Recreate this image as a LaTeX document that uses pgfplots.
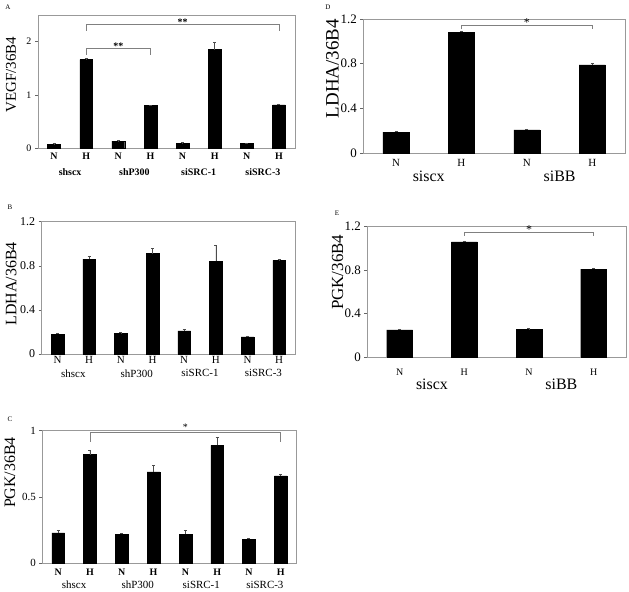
\documentclass[border=0pt]{standalone}
\usepackage{pgfplots}
\pgfplotsset{compat=1.18}
\usepackage{fontspec}
\setmainfont{Liberation Serif}
\newcommand{\fs}[1]{\fontsize{#1}{#1}\selectfont}
\pgfplotsset{
  panel/.style={
    scale only axis, clip=false, anchor=south west,
    axis line style={black!40, line width=0.6pt},
    xmin=-0.5, ymin=0,
    tick align=outside, ytick pos=left, xtick pos=bottom,
    major tick length=3bp,
    xtick style={draw=none}, ytick style={black!60, line width=0.6pt},
    ylabel style={anchor=center, rotate=0},
  },
  barstyle/.style={ybar, bar shift=0pt, bar width=0.4, fill=black, draw=black,
    error bars/.cd, y dir=plus, y explicit,
    error bar style={black!70, line width=0.6pt},
    error mark options={rotate=90, mark size=1.5bp, black!70, line width=0.6pt}},
  brk/.style={black!50, sharp plot, no marks, line width=0.6pt, forget plot},
}
\begin{document}
\begin{tikzpicture}
\useasboundingbox (0,0) rectangle (629bp,-592bp);
% Panel A
\node[font=\fs{7}] at (8bp,-7bp) {A};
\begin{axis}[panel, at={(38bp,-148bp)}, width=257bp, height=133bp,
  xmax=7.5, ymax=2.5, ytick={0,1,2}, yticklabels={0,1,2},
  yticklabel style={font=\fs{10}},
  xtick={0,...,7}, xticklabels={N,H,N,H,N,H,N,H},
  xticklabel style={font=\fs{10}\bfseries, anchor=center, yshift=-5.7bp},
  extra x ticks={0.5,2.5,4.5,6.5}, extra x tick labels={shscx,shP300,siSRC-1,siSRC-3},
  extra x tick style={xticklabel style={yshift=-15bp}},
  ylabel={VEGF/36B4}, ylabel style={font=\fs{15}, at={(axis description cs:-0.105,0.55)}}]
\addplot[barstyle] coordinates {(0,0.07) +- (0,0.01) (1,1.66) +- (0,0.02) (2,0.13) +- (0,0.01) (3,0.80) +- (0,0.005) (4,0.09) +- (0,0.01) (5,1.85) +- (0,0.13) (6,0.09) +- (0,0.005) (7,0.81) +- (0,0.02)};
\addplot[brk] coordinates {(1,1.75) (1,1.88) (3,1.88) (3,1.75)};
\addplot[brk] coordinates {(1,2.20) (1,2.32) (7,2.32) (7,2.20)};
\node[font=\fs{10}\bfseries, anchor=base] at (axis cs:2,1.86) {**};
\node[font=\fs{10}\bfseries, anchor=base] at (axis cs:4,2.31) {**};
\end{axis}
% Panel B
\node[font=\fs{7}] at (10bp,-207bp) {B};
\begin{axis}[panel, at={(41.7bp,-354bp)}, width=253.3bp, height=132.3bp,
  xmax=7.5, ymax=1.2, ytick={0,0.4,0.8,1.2}, yticklabels={0,0.4,0.8,1.2},
  yticklabel style={font=\fs{12}},
  xtick={0,...,7}, xticklabels={N,H,N,H,N,H,N,H},
  xticklabel style={font=\fs{11}, anchor=center, yshift=-3bp},
  extra x ticks={0.5,2.5,4.5,6.5}, extra x tick labels={shscx,shP300,siSRC-1,siSRC-3},
  extra x tick style={xticklabel style={yshift=-13.3bp}},
  ylabel={LDHA/36B4}, ylabel style={font=\fs{16}, at={(axis description cs:-0.121,0.53)}}]
\addplot[barstyle] coordinates {(0,0.18) +- (0,0.01) (1,0.86) +- (0,0.03) (2,0.19) +- (0,0.005) (3,0.91) +- (0,0.05) (4,0.21) +- (0,0.01) (5,0.84) +- (0,0.15) (6,0.155) +- (0,0.01) (7,0.85) +- (0,0.005)};
\end{axis}
% Panel C
\node[font=\fs{7}] at (10bp,-419bp) {C};
\begin{axis}[panel, at={(42.3bp,-563.3bp)}, width=254.4bp, height=132.6bp,
  xmax=7.5, ymax=1, ytick={0,0.5,1}, yticklabels={0,0.5,1},
  yticklabel style={font=\fs{11}},
  xtick={0,...,7}, xticklabels={N,H,N,H,N,H,N,H},
  xticklabel style={font=\fs{10}\bfseries, anchor=center, yshift=-6.4bp},
  extra x ticks={0.5,2.5,4.5,6.5}, extra x tick labels={shscx,shP300,siSRC-1,siSRC-3},
  extra x tick style={xticklabel style={yshift=-12.3bp, font=\fs{11}\mdseries}},
  ylabel={PGK/36B4}, ylabel style={font=\fs{16}, at={(axis description cs:-0.127,0.685)}}]
\addplot[barstyle] coordinates {(0,0.23) +- (0,0.02) (1,0.82) +- (0,0.03) (2,0.22) +- (0,0.005) (3,0.69) +- (0,0.05) (4,0.22) +- (0,0.03) (5,0.89) +- (0,0.06) (6,0.18) +- (0,0.01) (7,0.66) +- (0,0.01)};
\addplot[brk] coordinates {(1,0.917) (1,0.985) (7,0.985) (7,0.917)};
\node[font=\fs{10}, anchor=base] at (axis cs:4,1.0) {*};
\end{axis}
% Panel D
\node[font=\fs{7}] at (328bp,-7bp) {D};
\begin{axis}[panel, at={(363.3bp,-153.3bp)}, width=261.7bp, height=134.3bp,
  xmax=3.5, ymax=1.2, ytick={0,0.4,0.8,1.2}, yticklabels={0,0.4,0.8,1.2},
  yticklabel style={font=\fs{13}},
  xtick={0,...,3}, xticklabels={N,H,N,H},
  xticklabel style={font=\fs{11}, anchor=center, yshift=-6.4bp},
  extra x ticks={0.5,2.5}, extra x tick labels={siscx,siBB},
  extra x tick style={xticklabel style={yshift=-13.3bp, font=\fs{16}}},
  ylabel={LDHA/36B4}, ylabel style={font=\fs{19}, at={(axis description cs:-0.118,0.63)}}]
\addplot[barstyle] coordinates {(0,0.19) +- (0,0.005) (1,1.08) +- (0,0.01) (2,0.21) +- (0,0.005) (3,0.79) +- (0,0.01)};
\addplot[brk] coordinates {(1,1.108) (1,1.146) (3,1.146) (3,1.108)};
\node[font=\fs{12}, anchor=base] at (axis cs:2,1.135) {*};
\end{axis}
% Panel E
\node[font=\fs{7}] at (337bp,-213bp) {E};
\begin{axis}[panel, at={(367.3bp,-357bp)}, width=258.7bp, height=130.3bp,
  xmax=3.5, ymax=1.2, ytick={0,0.4,0.8,1.2}, yticklabels={0,0.4,0.8,1.2},
  yticklabel style={font=\fs{13}},
  xtick={0,...,3}, xticklabels={N,H,N,H},
  xticklabel style={font=\fs{10}, anchor=center, yshift=-12.6bp},
  extra x ticks={0.5,2.5}, extra x tick labels={siscx,siBB},
  extra x tick style={xticklabel style={yshift=-12bp, font=\fs{16}}},
  ylabel={PGK/36B4}, ylabel style={font=\fs{17}, at={(axis description cs:-0.115,0.65)}}]
\addplot[barstyle] coordinates {(0,0.25) +- (0,0.005) (1,1.06) +- (0,0.01) (2,0.255) +- (0,0.005) (3,0.81) +- (0,0.01)};
\addplot[brk] coordinates {(1,1.118) (1,1.149) (3,1.149) (3,1.118)};
\node[font=\fs{12}, anchor=base] at (axis cs:2,1.14) {*};
\end{axis}
\end{tikzpicture}
\end{document}
